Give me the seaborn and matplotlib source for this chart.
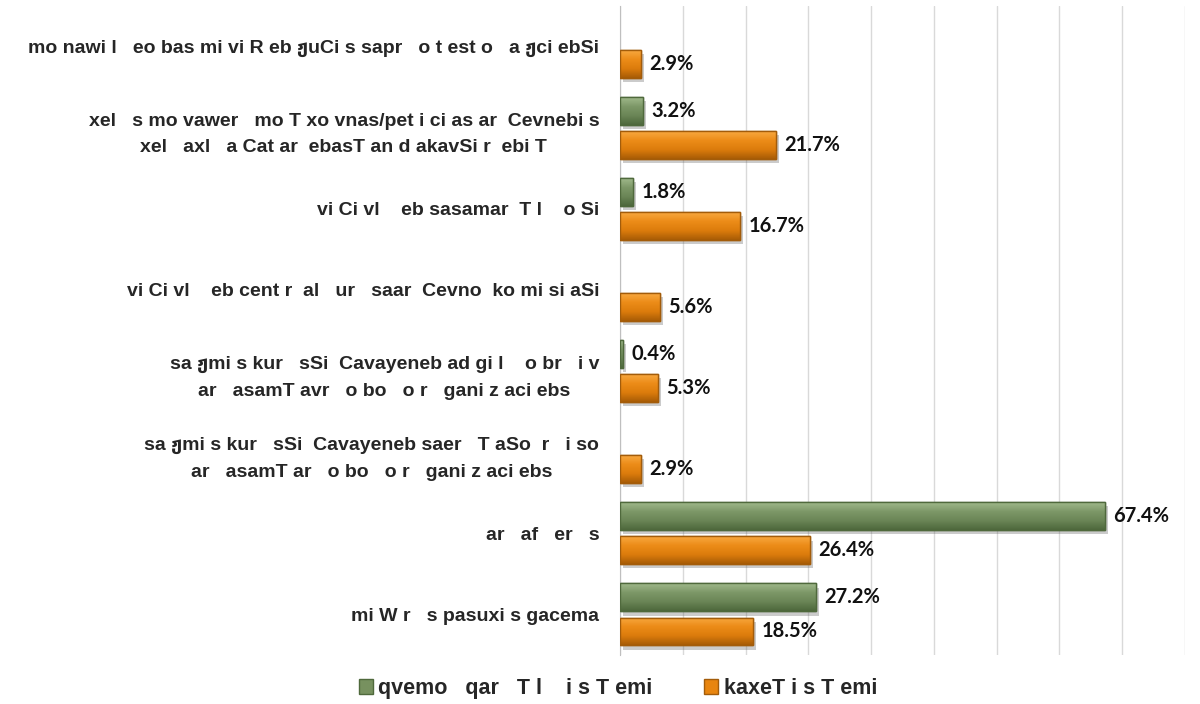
import matplotlib
matplotlib.use("Agg")
import matplotlib.pyplot as plt
import matplotlib.patheffects as pe
from matplotlib.colors import LinearSegmentedColormap
import seaborn as sns
import pandas as pd
import numpy as np

sns.set_style("white")
plt.rcParams['font.family'] = ['Liberation Sans', 'DejaVu Sans']

# data
categories = [
    "mo nawi l   eo bas mi vi R eb ჟuCi s sapr   o t est o   a ჟci ebSi",
    "xel   s mo vawer   mo T xo vnas/pet i ci as ar  Cevnebi s\nxel   axl   a Cat ar  ebasT an d akavSi r  ebi T",
    "vi Ci vl    eb sasamar  T l    o Si",
    "vi Ci vl    eb cent r  al   ur   saar  Cevno  ko mi si aSi",
    "sa ჟmi s kur   sSi  Cavayeneb ad gi l    o br   i v\nar   asamT avr   o bo   o r   gani z aci ebs",
    "sa ჟmi s kur   sSi  Cavayeneb saer   T aSo  r   i so\nar   asamT ar   o bo   o r   gani z aci ebs",
    "ar   af   er   s",
    "mi W r   s pasuxi s gacema",
]
series = ["qvemo   qar   T l    i s T emi", "kaxeT i s T emi"]
kvemo_kartli = [np.nan, 3.2, 1.8, np.nan, 0.4, np.nan, 67.4, 27.2]
kakheti = [2.9, 21.7, 16.7, 5.6, 5.3, 2.9, 26.4, 18.5]

colors = ["#77915f", "#e8850f"]
edges = ["#4f693c", "#a35c0a"]
# top -> bottom shading for the bevelled look
shades = [["#a0b98b", "#7d9868", "#6a8556", "#4e683c"],
          ["#f8a840", "#ec8c18", "#dc7c0c", "#a85c06"]]

df = pd.DataFrame({
    "category": categories * 2,
    "series": [series[0]] * len(categories) + [series[1]] * len(categories),
    "value": kvemo_kartli + kakheti,
})

fig = plt.figure(figsize=(12, 7.04), dpi=100)
ax = fig.add_axes([0.5167, 0.0696, 0.4708, 0.9219])

sns.barplot(data=df, y="category", x="value", hue="series", order=categories,
            hue_order=series, palette=colors, saturation=1, orient="h", width=0.84,
            gap=0.18, errorbar=None, legend=True, ax=ax, zorder=3)

shadow = [pe.SimplePatchShadow(offset=(2, -3), alpha=0.3, shadow_rgbFace="#555555"), pe.Normal()]
grad = np.linspace(0, 1, 64).reshape(-1, 1)
for i, cont in enumerate(ax.containers):
    cmap = LinearSegmentedColormap.from_list(f"g{i}", shades[i])
    for bar in cont:
        w = bar.get_width()
        if np.isnan(w):
            continue
        bar.set_edgecolor(edges[i])
        bar.set_linewidth(1.0)
        bar.set_path_effects(shadow)
        y0 = bar.get_y()
        h = bar.get_height()
        im = ax.imshow(grad, extent=[0, w, y0 + h, y0], origin="upper", aspect="auto",
                       cmap=cmap, zorder=3.2, interpolation="bilinear")
        im.set_clip_path(bar)
        edge = plt.Rectangle((0, y0), w, h, facecolor="none", edgecolor=edges[i],
                             linewidth=1.0, zorder=3.4)
        ax.add_patch(edge)
        ax.annotate(f"{w:.1f}%", (w, y0 + h / 2),
                    xytext=(6, 0), textcoords="offset points", va="center", ha="left",
                    fontsize=14.5, fontweight="bold", family=["Lato", "DejaVu Sans"],
                    color="#111111")

xmax = 78.5
ax.set_xlim(0, xmax)
ax.set_ylim(7.5, -0.5)
ax.set_xticks(np.linspace(0, xmax, 10))
ax.set_xticklabels([])
ax.xaxis.grid(True, color="#d9d9d9", linewidth=1.0, zorder=0)
ax.set_axisbelow(True)
for s in ["top", "right", "bottom"]:
    ax.spines[s].set_visible(False)
ax.spines["left"].set_color("#bfbfbf")
ax.tick_params(axis="both", length=0)
ax.tick_params(axis="y", pad=15)
ax.set_xlabel("")
ax.set_ylabel("")
for lab in ax.get_yticklabels():
    lab.set_fontsize(14)
    lab.set_fontweight("bold")
    lab.set_multialignment("center")
    lab.set_linespacing(1.75)

ax.legend_.remove()
handles = [plt.Rectangle((0, 0), 1, 1, facecolor=colors[k], edgecolor=edges[k]) for k in range(2)]
fig.legend(handles, series, loc="center", bbox_to_anchor=(0.515, 0.022), ncol=2,
           frameon=False, prop={"size": 15.5, "weight": "bold"},
           handlelength=0.65, handleheight=0.65, handletextpad=0.25, columnspacing=2.4)

fig.savefig("out.png", dpi=100)
